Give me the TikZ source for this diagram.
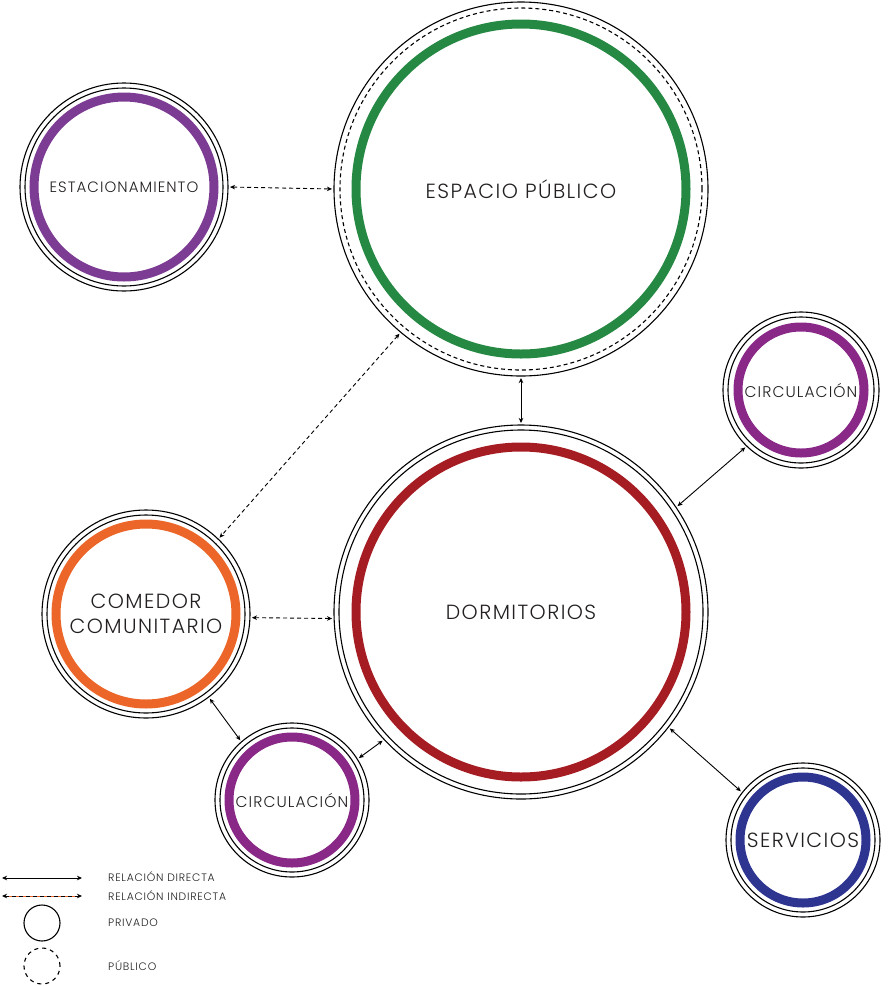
\documentclass[tikz,border=0pt]{standalone}
\usepackage{fontspec}
\setmainfont{Poppins}[UprightFont=* Light, LetterSpace=7]
\usetikzlibrary{arrows.meta}
\definecolor{txt}{HTML}{231F20}
\definecolor{cgreen}{HTML}{268943}
\definecolor{cred}{HTML}{A51D23}
\definecolor{cpurple}{HTML}{7D3C94}
\definecolor{cpurple2}{HTML}{8A2887}
\definecolor{corange}{HTML}{EB6628}
\definecolor{cblue}{HTML}{2E3591}
\tikzset{
  bubble/.style={circle, draw=black, line width=1.1pt, inner sep=0pt, outer sep=0pt, minimum size=#1, text=txt, align=center},
  thinring/.style={draw=black, line width=1.1pt},
  dashring/.style={draw=black, line width=1.1pt, dash pattern=on 4pt off 3pt},
  colring/.style={draw=#1, line width=9pt},
  direct/.style={draw=black, line width=0.9pt, {Stealth[length=5pt,width=4.5pt,inset=1.5pt]}-{Stealth[length=5pt,width=4.5pt,inset=1.5pt]}, shorten >=2pt, shorten <=2pt},
  indirect/.style={direct, dash pattern=on 4pt off 3pt},
  lbl/.style={text=txt, anchor=west, font=\fontsize{10.8}{13}\selectfont, inner sep=0pt},
}
\begin{document}
\begin{tikzpicture}[x=1pt,y=-1pt]
\useasboundingbox (0,0) rectangle (894,986);
% big bubbles
\node[bubble=374pt, font=\fontsize{20.5}{24}\selectfont] (ep) at (521,189) {ESPACIO PÚBLICO};
\draw[dashring] (ep.center) circle[radius=181pt];
\draw[colring=cgreen] (ep.center) circle[radius=165pt];

\node[bubble=374pt, font=\fontsize{20.5}{24}\selectfont] (dorm) at (521,612) {DORMITORIOS};
\draw[thinring] (dorm.center) circle[radius=182pt];
\draw[colring=cred] (dorm.center) circle[radius=165pt];

\node[bubble=208pt, font=\fontsize{15}{18}\selectfont] (est) at (124,187) {ESTACIONAMIENTO};
\draw[thinring] (est.center) circle[radius=99pt];
\draw[colring=cpurple] (est.center) circle[radius=90pt];

\node[bubble=208pt, font=\fontsize{20.5}{25}\selectfont] (com) at (146,614) {COMEDOR\\COMUNITARIO};
\draw[thinring] (com.center) circle[radius=99pt];
\draw[colring=corange] (com.center) circle[radius=90pt];

\node[bubble=156pt, font=\fontsize{15.5}{18}\selectfont] (circt) at (801,390) {CIRCULACIÓN};
\draw[thinring] (circt.center) circle[radius=73pt];
\draw[colring=cpurple2] (circt.center) circle[radius=63pt];

\node[bubble=154pt, font=\fontsize{15.5}{18}\selectfont] (circb) at (292,800) {CIRCULACIÓN};
\draw[thinring] (circb.center) circle[radius=72pt];
\draw[colring=cpurple2] (circb.center) circle[radius=63pt];

\node[bubble=154pt, font=\fontsize{20.5}{24}\selectfont] (serv) at (803,840) {SERVICIOS};
\draw[thinring] (serv.center) circle[radius=72pt];
\draw[colring=cblue] (serv.center) circle[radius=63pt];

% connectors
\draw[indirect] (est.0) -- (ep.180);
\draw[direct] (ep.south) -- (dorm.north);
\draw[indirect] (ep.230) -- (com.46);
\draw[indirect] (com.-2) -- (dorm.182);
\draw[direct] (circt.226) -- (dorm.34);
\draw[direct] (com.-53) -- (circb.131);
\draw[direct] (circb.32) -- (dorm.223);
\draw[direct] (dorm.-38) -- (serv.142);

% legend
\coordinate (l1a) at (2,878); \coordinate (l1b) at (82,878);
\coordinate (l2a) at (2,896); \coordinate (l2b) at (82,896);
\draw[direct, shorten >=0pt, shorten <=0pt] (l1a) -- (l1b);
\draw[corange, line width=0.6pt, shorten >=3pt, shorten <=3pt] (l2a) -- (l2b);
\draw[indirect, shorten >=0pt, shorten <=0pt] (l2a) -- (l2b);
\node[circle, draw=black, line width=1.1pt, minimum size=36pt, inner sep=0pt] (lpriv) at (42,923) {};
\node[circle, draw=black, line width=1.1pt, dash pattern=on 4pt off 4pt, minimum size=36pt, inner sep=0pt] (lpub) at (42,966) {};
\node[lbl] (t1) at (108,877) {RELACIÓN DIRECTA};
\node[lbl] (t2) at (108,896) {RELACIÓN INDIRECTA};
\node[lbl] (t3) at (108,923) {PRIVADO};
\node[lbl] (t4) at (108,966) {PÚBLICO};
\end{tikzpicture}
\end{document}
